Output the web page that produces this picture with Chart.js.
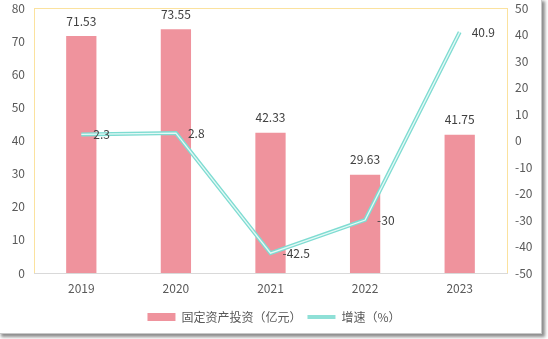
<!DOCTYPE html>
<html>
<head>
<meta charset="utf-8">
<script src="https://cdn.jsdelivr.net/npm/chart.js@4/dist/chart.umd.min.js"></script>
<style>
  body { margin: 0; background: #fff; width: 548px; height: 339px; overflow: hidden; position: relative; }
  #frame { position: absolute; left: -2px; top: -2px; width: 542px; height: 334px; border: 1px solid #c8c8c8; background: #fff; box-shadow: 3px 3px 3px rgba(0,0,0,0.45); }
  #wrap { position: absolute; left: 0; top: 0; width: 548px; height: 339px; }
</style>
</head>
<body>
<div id="frame"></div>
<div id="wrap"><canvas id="myChart" width="548" height="339"></canvas></div>
<script>
// datos
const years = ['2019', '2020', '2021', '2022', '2023']
const inversion = [71.53, 73.55, 42.33, 29.63, 41.75]
const crecimiento = [2.3, 2.8, -42.5, -30, 40.9]
const leftTicks = [0, 10, 20, 30, 40, 50, 60, 70, 80]
const rightTicks = [-50, -40, -30, -20, -10, 0, 10, 20, 30, 40, 50]

const nombreBarra = '固定资产投资（亿元）'
const nombreLinea = '增速（%）'

const fuente = '"Microsoft YaHei", "Noto Sans CJK SC", sans-serif'
const gris = '#595959'

// marco amarillo del area y etiquetas de valores
const extras = {
    id: 'extras',
    beforeDatasetsDraw(chart) {
        const a = chart.chartArea
        const ctx = chart.ctx
        ctx.save()
        ctx.strokeStyle = '#fbe29e'
        ctx.lineWidth = 1
        ctx.strokeRect(a.left + 0.5, a.top + 0.5, a.right - a.left, a.bottom - a.top)
        ctx.strokeStyle = '#d9d9d9'
        ctx.beginPath()
        ctx.moveTo(a.left, a.bottom + 0.5)
        ctx.lineTo(a.right + 1, a.bottom + 0.5)
        ctx.stroke()
        ctx.restore()
    },
    afterDatasetsDraw(chart) {
        const ctx = chart.ctx
        ctx.save()
        ctx.font = '12px ' + fuente
        ctx.fillStyle = '#404040'
        const barras = chart.getDatasetMeta(0).data
        ctx.textAlign = 'center'
        ctx.textBaseline = 'middle'
        barras.forEach((b, i) => {
            ctx.fillText(inversion[i], b.x, b.y - 15)
        })
        const puntos = chart.getDatasetMeta(1).data
        ctx.textAlign = 'left'
        puntos.forEach((p, i) => {
            ctx.fillText(crecimiento[i], p.x + 12, p.y)
        })
        ctx.restore()
    }
}

const ajusteY = ancho => s => {
    s.width = ancho
    s.paddingTop = 0
    s.paddingBottom = 0
}

const ctx = document.getElementById('myChart').getContext('2d')
const myChart = new Chart(ctx, {
    type: 'bar',
    data: {
        labels: years,
        datasets: [{
            label: nombreBarra,
            data: inversion,
            backgroundColor: '#ef939d',
            yAxisID: 'y',
            barPercentage: 0.32,
            categoryPercentage: 1,
            order: 3
        },
        {
            type: 'line',
            label: nombreLinea,
            data: crecimiento,
            borderColor: '#7fdcd2',
            borderWidth: 4,
            pointRadius: 0,
            tension: 0,
            yAxisID: 'y1',
            order: 2
        },
        {
            type: 'line',
            label: 'interior',
            data: crecimiento,
            borderColor: '#e4f9f6',
            borderWidth: 1.3,
            pointRadius: 0,
            tension: 0,
            yAxisID: 'y1',
            order: 1
        }]
    },
    options: {
        responsive: false,
        animation: false,
        layout: { padding: { top: 8, bottom: 6, left: 0, right: 0 } },
        plugins: {
            tooltip: { enabled: false },
            legend: {
                position: 'bottom',
                labels: {
                    font: { size: 12, family: fuente },
                    color: gris,
                    usePointStyle: true,
                    pointStyleWidth: 28,
                    boxHeight: 8,
                    padding: 6,
                    generateLabels: () => [
                        { text: nombreBarra, fillStyle: '#ef939d', strokeStyle: '#ef939d', lineWidth: 0, pointStyle: 'rect', fontColor: gris, datasetIndex: 0 },
                        { text: nombreLinea, fillStyle: '#7fdcd2', strokeStyle: '#8fe0d7', lineWidth: 4, pointStyle: 'line', fontColor: gris, datasetIndex: 1 }
                    ]
                }
            }
        },
        scales: {
            x: {
                afterFit: s => { s.height = 32; s.paddingLeft = 0; s.paddingRight = 0 },
                grid: { display: false, drawTicks: false },
                border: { display: false },
                ticks: { color: gris, font: { size: 12, family: fuente }, padding: 8 }
            },
            y: {
                position: 'left',
                min: 0, max: 80,
                afterFit: ajusteY(34),
                afterBuildTicks: s => { s.ticks = leftTicks.map(v => ({ value: v })) },
                grid: { display: false, drawTicks: false },
                border: { display: false },
                ticks: { color: gris, font: { size: 12, family: fuente }, padding: 9 }
            },
            y1: {
                position: 'right',
                min: -50, max: 50,
                afterFit: ajusteY(41),
                afterBuildTicks: s => { s.ticks = rightTicks.map(v => ({ value: v })) },
                grid: { display: false, drawTicks: false },
                border: { display: false },
                ticks: { color: gris, font: { size: 12, family: fuente }, padding: 8 }
            }
        }
    },
    plugins: [extras]
})
</script>
</body>
</html>
